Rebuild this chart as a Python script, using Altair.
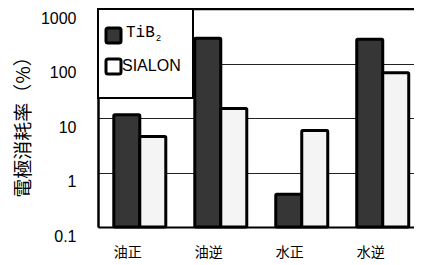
import altair as alt
import pandas as pd

categories = ["油正", "油逆", "水正", "水逆"]
series = ["TiB2", "SIALON"]
tib2_values = [11.5, 290, 0.4, 280]
sialon_values = [4.6, 15, 5.9, 68]
y_ticks = [0.1, 1, 10, 100, 1000]
series_colors = ["#363636", "#f4f4f4"]

rows = []
for c, t, s in zip(categories, tib2_values, sialon_values):
    rows.append({"cat": c, "series": "TiB2", "value": t})
    rows.append({"cat": c, "series": "SIALON", "value": s})
df = pd.DataFrame(rows)

W, H = 316, 218
CJK = "Noto Sans CJK JP"
LAT = "Liberation Sans"

yscale = alt.Scale(type="log", domain=[0.1, 1000])

bars = alt.Chart(df).mark_bar(stroke="black", strokeWidth=3, cornerRadius=1).encode(
    x=alt.X("cat:N", sort=categories,
            scale=alt.Scale(paddingInner=0.358, paddingOuter=0.13, align=0.75),
            axis=alt.Axis(title=None, labelAngle=0, labelFont=CJK, labelFontSize=14,
                          labelColor="black", labelOffset=-12, labelPadding=18,
                          ticks=False, domainColor="black", domainWidth=2, grid=False)),
    xOffset=alt.XOffset("series:N", sort=series,
                        scale=alt.Scale(paddingInner=0, paddingOuter=0)),
    y=alt.Y("value:Q", scale=yscale,
            axis=alt.Axis(values=y_ticks, format="~g", ticks=False,
                          labelFont=LAT, labelFontSize=16, labelColor="black",
                          labelPadding=22, labelBaseline="middle", labelOffset=9,
                          domainColor="black", domainWidth=2.5,
                          grid=True, gridColor="#222222", gridWidth=1,
                          title="電極消耗率（%）", titleFont=CJK, titleFontSize=19,
                          titleFontWeight="normal", titleColor="black",
                          titleX=-75, titleY=113, titleAngle=-90,
                          titleAlign="center", titleBaseline="middle")),
    y2=alt.datum(0.1),
    fill=alt.Fill("series:N", sort=series,
                  scale=alt.Scale(domain=series, range=series_colors), legend=None),
)

top_rule = alt.Chart(pd.DataFrame({"v": [1000]})).mark_rule(
    color="black", strokeWidth=2.5).encode(y=alt.Y("v:Q", scale=yscale))

one = pd.DataFrame({"a": [0]})
legend_box = alt.Chart(one).mark_rect(fill="white", stroke="black", strokeWidth=2).encode(
    x=alt.value(0), x2=alt.value(95), y=alt.value(0), y2=alt.value(89))
sq1 = alt.Chart(one).mark_rect(fill=series_colors[0], stroke="black", strokeWidth=3,
                               cornerRadius=2).encode(
    x=alt.value(8), x2=alt.value(23), y=alt.value(19), y2=alt.value(34))
sq2 = alt.Chart(one).mark_rect(fill="white", stroke="black", strokeWidth=3,
                               cornerRadius=2).encode(
    x=alt.value(8), x2=alt.value(23), y=alt.value(50), y2=alt.value(65))
t1 = alt.Chart(one).mark_text(font="Liberation Mono", fontSize=16, align="left",
                              baseline="middle", color="black").encode(
    x=alt.value(28), y=alt.value(23), text=alt.value("TiB"))
t1s = alt.Chart(one).mark_text(font=LAT, fontSize=9, align="left",
                               baseline="middle", color="black").encode(
    x=alt.value(58), y=alt.value(29), text=alt.value("2"))
t2 = alt.Chart(one).mark_text(font=LAT, fontSize=16, align="left",
                              baseline="middle", color="black").encode(
    x=alt.value(24), y=alt.value(57), text=alt.value("SIALON"))

chart = alt.layer(bars, top_rule, legend_box, sq1, sq2, t1, t1s, t2).properties(
    width=W, height=H,
    autosize=alt.AutoSizeParams(type="none"),
    padding={"left": 90, "top": 1, "right": 0, "bottom": 32},
    background="white",
).configure_view(stroke=None)

chart.save("out.html", embed_options={"renderer": "svg", "actions": False})
